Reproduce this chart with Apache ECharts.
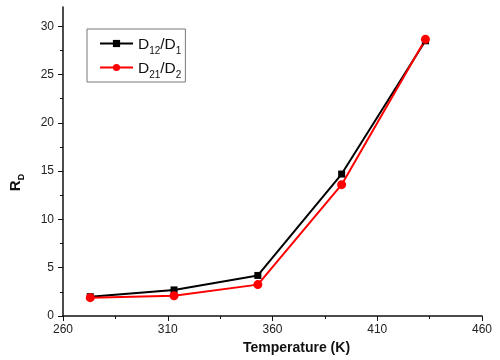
<!DOCTYPE html>
<html><head><meta charset="utf-8">
<script src="https://cdn.jsdelivr.net/npm/echarts@6/dist/echarts.min.js"></script>
<style>html,body{margin:0;padding:0;background:#fff}#c{width:500px;height:360px}</style>
</head><body><div id="c"></div>
<script>
const temperature = [273, 313, 353, 393, 433];
const d12d1 = [2.0, 2.7, 4.2, 14.7, 28.5];
const d21d2 = [1.9, 2.1, 3.25, 13.6, 28.65];
const yMajorTicks = [0, 5, 10, 15, 20, 25, 30];
const yMinorTicks = [2.5, 7.5, 12.5, 17.5, 22.5, 27.5];
const seriesNames = ['D12/D1', 'D21/D2'];

const font = 'Liberation Sans';
const chart = echarts.init(document.getElementById('c'));
const legendFmt = {
  'D12/D1': '{n|D}{s|12}{n|/D}{s|1}',
  'D21/D2': '{n|D}{s|21}{n|/D}{s|2}'
};
chart.setOption({
  animation: false,
  backgroundColor: '#fff',
  grid: { left: 62, right: 18, top: 7, bottom: 41 },
  legend: {
    left: 87, top: 29, orient: 'vertical',
    backgroundColor: '#fff', borderColor: '#777', borderWidth: 1, borderRadius: 0,
    padding: [8, 4, 2, 12], itemGap: 5, itemWidth: 33, itemHeight: 9,
    data: seriesNames,
    formatter: n => legendFmt[n],
    textStyle: {
      fontFamily: font, color: '#111',
      rich: {
        n: { fontSize: 15.5, fontFamily: font, color: '#111', lineHeight: 19, verticalAlign: 'bottom' },
        s: { fontSize: 10, fontFamily: font, color: '#111', verticalAlign: 'bottom', lineHeight: 12, padding: [0, 0, -3, 0] }
      }
    }
  },
  xAxis: {
    type: 'value', min: 260, max: 460, interval: 50,
    name: 'Temperature (K)', nameLocation: 'middle', nameGap: 25,
    nameTextStyle: { fontFamily: font, fontSize: 14, fontWeight: 'bold', color: '#111', padding: [0, 0, 0, 48] },
    axisLine: { lineStyle: { color: '#111', width: 1.5 } },
    axisTick: { show: true, length: 5, lineStyle: { color: '#111' } },
    minorTick: { show: true, splitNumber: 2, length: 3, lineStyle: { color: '#111' } },
    axisLabel: { fontFamily: font, fontSize: 12, color: '#222', margin: 8 },
    splitLine: { show: false }
  },
  yAxis: [{
    type: 'value', min: 0, max: 32,
    name: '{r|R}{d|D}', nameLocation: 'middle', nameGap: 40,
    nameTextStyle: {
      fontFamily: font, color: '#111', padding: [0, 42, 0, 0],
      rich: {
        r: { fontSize: 15, fontWeight: 'bold', fontFamily: font, color: '#111', lineHeight: 17, verticalAlign: 'bottom' },
        d: { fontSize: 9, fontWeight: 'bold', fontFamily: font, color: '#111', lineHeight: 10, verticalAlign: 'bottom', padding: [0, 0, -3, 0] }
      }
    },
    axisLine: { show: true, lineStyle: { color: '#111', width: 1.5 } },
    axisTick: { show: true, length: 5, customValues: yMajorTicks, lineStyle: { color: '#111' } },
    axisLabel: { fontFamily: font, fontSize: 12, color: '#222', margin: 9, customValues: yMajorTicks },
    splitLine: { show: false }
  }, {
    type: 'value', min: 0, max: 32, position: 'left',
    axisLine: { show: false },
    axisTick: { show: true, length: 3, customValues: yMinorTicks, lineStyle: { color: '#111' } },
    axisLabel: { show: false },
    splitLine: { show: false }
  }],
  series: [{
    name: seriesNames[0], type: 'line', yAxisIndex: 0,
    data: temperature.map((t, i) => [t, d12d1[i]]),
    symbol: 'rect', symbolSize: 7,
    lineStyle: { color: '#000', width: 2 }, itemStyle: { color: '#000' }
  }, {
    name: seriesNames[1], type: 'line', yAxisIndex: 0,
    data: temperature.map((t, i) => [t, d21d2[i]]),
    symbol: 'circle', symbolSize: 9,
    lineStyle: { color: '#f00', width: 2 }, itemStyle: { color: '#f00' }
  }]
});
</script></body></html>
